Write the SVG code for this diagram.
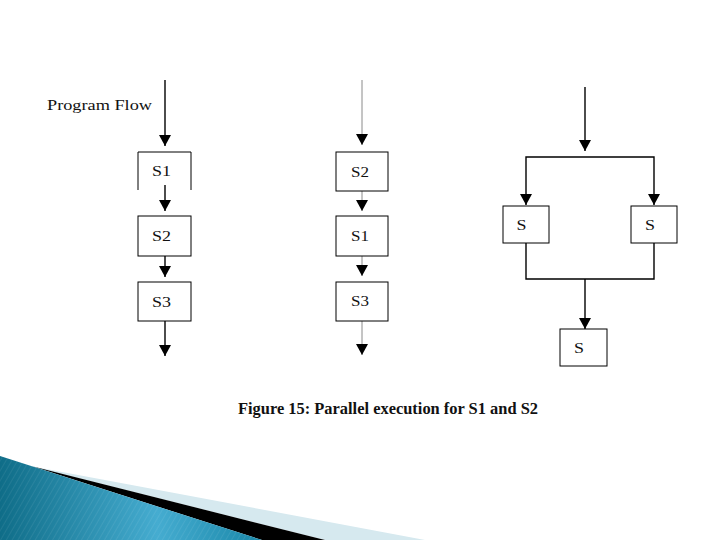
<svg xmlns="http://www.w3.org/2000/svg" width="720" height="540" viewBox="0 0 720 540">
<style>
.box{fill:#fff;stroke:#000;stroke-width:1}
.lbl{font-family:"Liberation Serif","Times New Roman",serif;font-size:15px;fill:#111}
.cap{font-family:"Liberation Serif","Times New Roman",serif;font-size:17px;font-weight:bold;fill:#111}
.c{fill:none;stroke:#000;stroke-width:1.4}
.cg{fill:none;stroke:#8a8a8a;stroke-width:1}
.a{marker-end:url(#ah)}
</style>
<defs>
<marker id="ah" viewBox="0 0 11 12" refX="11" refY="6" markerWidth="11" markerHeight="12" markerUnits="userSpaceOnUse" orient="auto">
<path d="M0,0 L11,6 L0,12 z" fill="#000"/>
</marker>
<linearGradient id="blue" x1="0" y1="0" x2="262" y2="0" gradientUnits="userSpaceOnUse">
<stop offset="0" stop-color="#0f6d88"/>
<stop offset="0.6" stop-color="#45acd0"/>
<stop offset="1" stop-color="#1a88a9"/>
</linearGradient>
<pattern id="stripes" width="5" height="5" patternUnits="userSpaceOnUse" patternTransform="rotate(30)">
<rect width="1" height="5" fill="#ffffff" opacity="0.07"/>
</pattern>
</defs>
<rect width="720" height="540" fill="#fff"/>

<g id="decoration">
<polygon points="30,466 425,540 325,540" fill="#d6e9ef"/>
<polygon points="33,466.6 325,540 262,540" fill="#000"/>
<polygon points="0,456 262,540 0,540" fill="url(#blue)"/>
<polygon points="0,456 262,540 0,540" fill="url(#stripes)"/>
</g>

<text id="program-flow" class="lbl" x="47" y="110" textLength="105" lengthAdjust="spacingAndGlyphs">Program Flow</text>

<g id="connectors">
<path class="c a" d="M165,80 V146"/>
<path class="c a" d="M165,185 V211"/>
<path class="c a" d="M165,250 V277"/>
<path class="c a" d="M165,317 V356"/>
<path class="cg a" d="M362,80 V145"/>
<path class="cg a" d="M362,191 V211"/>
<path class="cg a" d="M362,256 V276"/>
<path class="cg a" d="M362,321 V355"/>
<path class="c a" d="M585,87 V151"/>
<path class="c a" d="M585,157 H526 V205"/>
<path class="c a" d="M585,157 H654 V205"/>
<path class="c" d="M526,243 V279 H654 V243"/>
<path class="c a" d="M585,279 V329"/>
</g>

<g id="l-s1">
<path d="M138,190 V152 H191 V190" fill="none" stroke="#000" stroke-width="1"/>
<text class="lbl" x="152" y="176" textLength="19" lengthAdjust="spacingAndGlyphs">S1</text>
</g>
<g id="l-s2">
<rect class="box" x="138" y="216" width="53" height="40"/>
<text class="lbl" x="152" y="241" textLength="19" lengthAdjust="spacingAndGlyphs">S2</text>
</g>
<g id="l-s3">
<rect class="box" x="138" y="282" width="53" height="39"/>
<text class="lbl" x="152" y="307" textLength="19" lengthAdjust="spacingAndGlyphs">S3</text>
</g>

<g id="m-s2">
<rect class="box" x="336" y="152" width="52" height="39"/>
<text class="lbl" x="351" y="177" textLength="18" lengthAdjust="spacingAndGlyphs">S2</text>
</g>
<g id="m-s1">
<rect class="box" x="336" y="216" width="52" height="40"/>
<text class="lbl" x="351" y="241" textLength="18" lengthAdjust="spacingAndGlyphs">S1</text>
</g>
<g id="m-s3">
<rect class="box" x="336" y="282" width="52" height="39"/>
<text class="lbl" x="351" y="306" textLength="18" lengthAdjust="spacingAndGlyphs">S3</text>
</g>

<g id="r-s-left">
<rect class="box" x="503" y="206" width="46" height="37"/>
<text class="lbl" x="516.5" y="230" textLength="10" lengthAdjust="spacingAndGlyphs">S</text>
</g>
<g id="r-s-right">
<rect class="box" x="631" y="206" width="46" height="37"/>
<text class="lbl" x="645" y="230" textLength="10" lengthAdjust="spacingAndGlyphs">S</text>
</g>
<g id="r-s-bottom">
<rect class="box" x="560" y="329" width="47" height="37"/>
<text class="lbl" x="574" y="353" textLength="10" lengthAdjust="spacingAndGlyphs">S</text>
</g>

<text id="caption" class="cap" x="238" y="414" textLength="300" lengthAdjust="spacingAndGlyphs">Figure 15: Parallel execution for S1 and S2</text>
</svg>
